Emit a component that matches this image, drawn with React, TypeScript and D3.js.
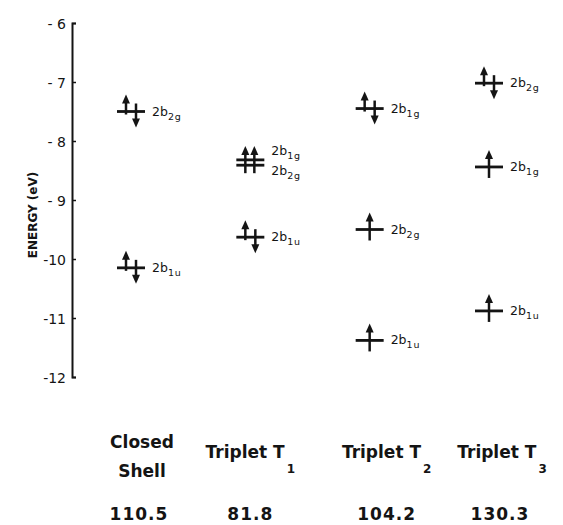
import React, { useEffect, useRef } from 'react';
import * as d3 from 'd3';

// states along the bottom and their totals
const states = ['Closed Shell', 'Triplet T1', 'Triplet T2', 'Triplet T3'];
const stateTotals = ['110.5', '81.8', '104.2', '130.3'];

// orbital levels per state: orbital subscript, energy (eV), occupation
const closedShell = [
    { sub: '2g', e: -7.5, occ: 'pair' },
    { sub: '1u', e: -10.15, occ: 'pair' },
];
const tripletT1 = [
    { sub: '1g', e: -8.32, occ: 'up' },
    { sub: '2g', e: -8.41, occ: 'up' },
    { sub: '1u', e: -9.63, occ: 'pair' },
];
const tripletT2 = [
    { sub: '1g', e: -7.45, occ: 'pair' },
    { sub: '2g', e: -9.5, occ: 'up' },
    { sub: '1u', e: -11.38, occ: 'up' },
];
const tripletT3 = [
    { sub: '2g', e: -7.02, occ: 'pair' },
    { sub: '1g', e: -8.44, occ: 'up' },
    { sub: '1u', e: -10.88, occ: 'up' },
];
const levelsByState = [closedShell, tripletT1, tripletT2, tripletT3];

const yTicks = [-6, -7, -8, -9, -10, -11, -12];

const width = 563;
const height = 525;
const ink = '#141414';

const App = () => {
    const svgRef = useRef(null);

    useEffect(() => {
        const svg = d3.select(svgRef.current);
        svg.selectAll('*').remove();

        const y = d3.scaleLinear().domain([-6, -12]).range([23, 377]);
        const x = d3.scalePoint().domain(states).range([131, 489]);

        // axis
        const axis = svg.append('g')
            .attr('transform', 'translate(72,0)')
            .call(d3.axisLeft(y)
                .tickValues(yTicks)
                .tickSizeInner(-4)
                .tickSizeOuter(-4)
                .tickPadding(6)
                .tickFormat(d => (d < -9 ? `-${-d}` : `- ${-d}`)));
        axis.select('.domain').attr('stroke', ink).attr('stroke-width', 2);
        axis.selectAll('.tick line').attr('stroke', ink).attr('stroke-width', 1.5);
        axis.selectAll('.tick text')
            .attr('fill', ink)
            .attr('font-family', 'DejaVu Sans, sans-serif')
            .attr('font-size', 14)
            .attr('dy', '0.36em');

        svg.append('text')
            .attr('transform', 'translate(37,215) rotate(-90)')
            .attr('text-anchor', 'middle')
            .attr('font-family', 'DejaVu Sans, sans-serif')
            .attr('font-weight', 'bold')
            .attr('font-size', 12)
            .attr('fill', ink)
            .text('ENERGY (eV)');

        const halfLen = 14;
        const head = (g, cx, tipY, dir) => {
            g.append('path')
                .attr('d', d3.line()([[cx - 4, tipY + dir * 9], [cx, tipY], [cx + 4, tipY + dir * 9]]) + 'Z')
                .attr('fill', ink);
        };
        const arrow = (g, cx, y0, y1) => {
            // from y0 to tip y1
            const dir = y1 < y0 ? 1 : -1;
            g.append('line')
                .attr('x1', cx).attr('x2', cx)
                .attr('y1', y0).attr('y2', y1 + dir * 6)
                .attr('stroke', ink).attr('stroke-width', 2.5);
            head(g, cx, y1, dir);
        };

        states.forEach((s, i) => {
            const cx = x(s);
            const levels = levelsByState[i];
            const g = svg.append('g');
            levels.forEach((lv, j) => {
                const ly = y(lv.e);
                g.append('line')
                    .attr('x1', cx - halfLen).attr('x2', cx + halfLen)
                    .attr('y1', ly).attr('y2', ly)
                    .attr('stroke', ink).attr('stroke-width', 2.8);

                // near-degenerate neighbour
                const prev = levels[j - 1];
                const next = levels[j + 1];
                const closeAbove = prev && Math.abs(prev.e - lv.e) < 0.2;
                const closeBelow = next && Math.abs(next.e - lv.e) < 0.2;

                if (lv.occ === 'pair') {
                    arrow(g, cx - 5, ly + 3, ly - 17);
                    arrow(g, cx + 5, ly - 8, ly + 16);
                } else if (closeBelow) {
                    arrow(g, cx - 5, y(next.e) + 8, ly - 14);
                } else if (closeAbove) {
                    arrow(g, cx + 4, ly + 8, y(prev.e) - 14);
                } else {
                    arrow(g, cx, ly + 11, ly - 17);
                }

                const labelDy = closeBelow ? -5 : closeAbove ? 10 : 4;
                const t = g.append('text')
                    .attr('x', cx + halfLen + 7)
                    .attr('y', ly + labelDy)
                    .attr('font-family', 'DejaVu Sans, sans-serif')
                    .attr('font-size', 12.5)
                    .attr('fill', ink);
                t.append('tspan').text('2b');
                t.append('tspan')
                    .attr('dy', 4)
                    .attr('font-size', 9.5)
                    .attr('letter-spacing', 0.8)
                    .text(lv.sub);
            });
        });

        // bottom labels
        const labelDx = [11, 0, 17, 13];
        const numDx = [8, 0, 17, 11];
        const bold = sel => sel
            .attr('font-family', 'DejaVu Sans, sans-serif')
            .attr('font-weight', 'bold')
            .attr('fill', ink)
            .attr('text-anchor', 'middle');

        states.forEach((s, i) => {
            const cx = x(s) + labelDx[i];
            if (i === 0) {
                const [a, b] = s.split(' ');
                bold(svg.append('text')).attr('x', cx).attr('y', 448).attr('font-size', 17).text(a);
                bold(svg.append('text')).attr('x', cx).attr('y', 477).attr('font-size', 17).text(b);
            } else {
                const t = bold(svg.append('text')).attr('x', cx).attr('y', 458).attr('font-size', 17);
                t.append('tspan').text(s.slice(0, -1));
                t.append('tspan').attr('dx', 2).attr('dy', 15).attr('font-size', 12).text(s.slice(-1));
            }
            bold(svg.append('text'))
                .attr('x', x(s) + numDx[i])
                .attr('y', 520)
                .attr('font-size', 17)
                .attr('letter-spacing', 1)
                .text(stateTotals[i]);
        });
    }, []);

    return (
        <svg
            ref={svgRef}
            width={width}
            height={height}
            style={{ position: 'absolute', left: 0, top: 0, background: '#fff' }}
        />
    );
};

export default App;
